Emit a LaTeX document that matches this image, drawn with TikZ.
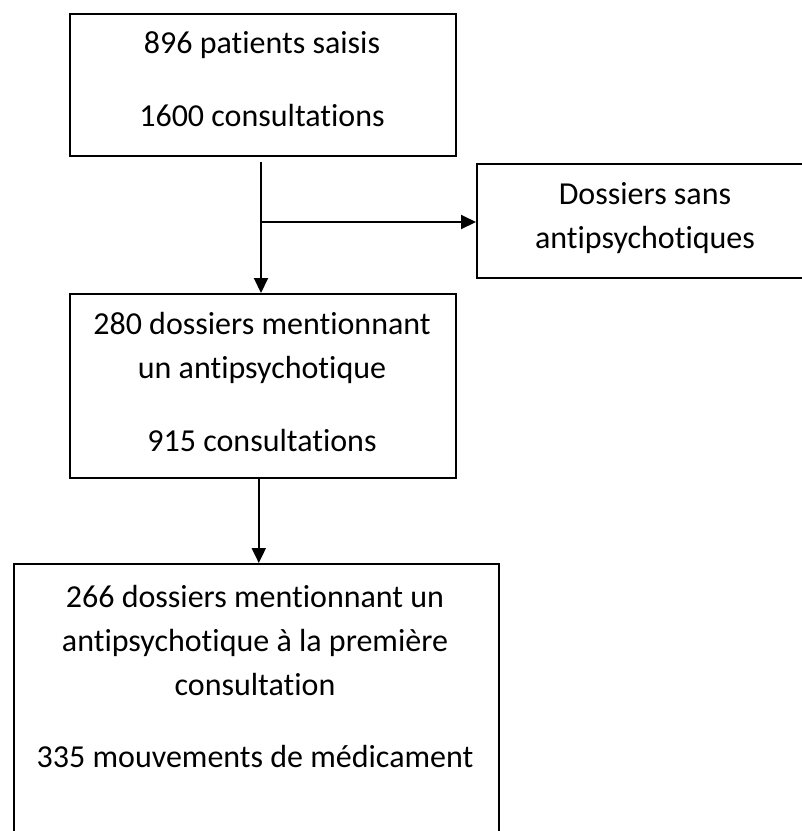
\documentclass[tikz,border=0pt]{standalone}
\usepackage{fontspec}
\setmainfont{Carlito}[Ligatures=NoCommon]
\usetikzlibrary{arrows.meta}
\begin{document}
\begin{tikzpicture}[x=1pt,y=-1pt,
  box/.style={draw=black, line width=1.6pt, anchor=north west, inner sep=0pt},
  txt/.style={anchor=base, inner sep=0pt, font=\fontsize{32}{38}\selectfont},
  conn/.style={line width=2pt, -{Triangle[length=15pt,width=14pt]}}]
\clip (0,0) rectangle (802,831);
\fill[white] (0,0) rectangle (802,831);
% boxes
\node[box, minimum width=386pt, minimum height=142pt] (b1) at (69,13) {};
\node[box, minimum width=338pt, minimum height=114pt] (b3) at (476,163) {};
\node[box, minimum width=386pt, minimum height=184pt] (b2) at (69,293) {};
\node[box, minimum width=485pt, minimum height=300pt] (b4) at (13,563) {};
% texts
\node[txt] (t1a) at (262,53) {896 patients saisis};
\node[txt] (t1b) at (262,126) {1600 consultations};
\node[txt] (t3a) at (645,204) {Dossiers sans};
\node[txt] (t3b) at (645,248) {antipsychotiques};
\node[txt] (t2a) at (262,334) {280 dossiers mentionnant};
\node[txt] (t2b) at (262,378) {un antipsychotique};
\node[txt] (t2c) at (262,451) {915 consultations};
\node[txt] (t4a) at (255,607) {266 dossiers mentionnant un};
\node[txt] (t4b) at (255,651) {antipsychotique à la première};
\node[txt] (t4c) at (255,695) {consultation};
\node[txt] (t4d) at (255,767) {335 mouvements de médicament};
% connectors
\coordinate (s1) at (261,162);
\coordinate (j) at (261,222);
\draw[conn] (s1) -- (s1 |- b2.north);
\draw[conn] (j) -- (j -| b3.west);
\coordinate (s2) at ([xshift=-4pt]b2.south);
\draw[conn] (s2) -- (s2 |- b4.north);
\end{tikzpicture}
\end{document}
